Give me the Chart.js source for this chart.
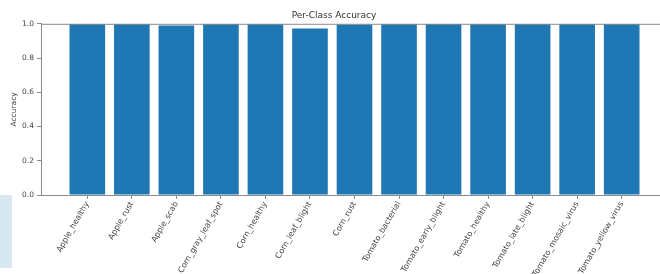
<!DOCTYPE html>
<html>
<head>
<meta charset="utf-8">
<script src="https://cdn.jsdelivr.net/npm/chart.js@4.4.1/dist/chart.umd.min.js"></script>
<style>
  html, body { margin: 0; padding: 0; background: #fff; overflow: hidden; }
  #wrap { position: relative; width: 668px; height: 274px; }
  #side { position: absolute; left: 0; top: 195px; width: 12px; height: 73px; background: #d7e8f1; }
</style>
</head>
<body>
<div id="wrap"><canvas id="accChart" width="668" height="274"></canvas></div>
<div id="side"></div>
<script>
let classes = [
  "Apple_healthy", "Apple_rust", "Apple_scab", "Corn_gray_leaf_spot", "Corn_healthy",
  "Corn_leaf_blight", "Corn_rust", "Tomato_bacterial", "Tomato_early_blight",
  "Tomato_healthy", "Tomato_late_blight", "Tomato_mosaic_virus", "Tomato_yellow_virus"
];
let accuracy = [1.0, 1.0, 0.99, 1.0, 1.0, 0.972, 0.996, 1.0, 1.0, 1.0, 1.0, 1.0, 1.0];
let yTickValues = [0.0, 0.2, 0.4, 0.6, 0.8, 1.0];

let axisColor = "#8a8a8a";
let textColor = "#444";
let font = { family: "DejaVu Sans", size: 7.5 };

// top and right spines like matplotlib
let spines = {
  id: "spines",
  afterDraw(chart) {
    let a = chart.chartArea;
    let c = chart.ctx;
    c.save();
    c.strokeStyle = axisColor;
    c.lineWidth = 1;
    c.beginPath();
    c.moveTo(a.left, a.top + 0.5);
    c.lineTo(a.right, a.top + 0.5);
    c.moveTo(a.right - 0.5, a.top);
    c.lineTo(a.right - 0.5, a.bottom);
    c.stroke();
    c.restore();
  },
};

let ctx = document.getElementById("accChart").getContext("2d");
let myChart = new Chart(ctx, {
  type: "bar",
  data: {
    datasets: [
      {
        data: accuracy.map((v, i) => ({ x: i, y: v })),
        backgroundColor: "#1f77b4",
        borderWidth: 0,
        barPercentage: 0.8,
        categoryPercentage: 1,
      },
    ],
  },
  plugins: [spines],
  options: {
    responsive: false,
    animation: false,
    layout: { padding: 0 },
    plugins: {
      legend: { display: false },
      tooltip: { enabled: false },
      title: {
        display: true,
        text: "Per-Class Accuracy",
        color: "#333",
        font: { family: "DejaVu Sans", size: 9, weight: "normal" },
        padding: { top: 10, bottom: 3 },
      },
    },
    scales: {
      x: {
        type: "linear",
        min: -1.04,
        max: 13.04,
        offset: false,
        afterBuildTicks: (axis) => {
          axis.ticks = classes.map((c, i) => ({ value: i }));
        },
        afterFit: (scale) => {
          scale.height = 79;
          scale.paddingLeft = 0;
          scale.paddingRight = 0;
        },
        ticks: {
          autoSkip: false,
          minRotation: 60,
          maxRotation: 60,
          padding: 1,
          color: textColor,
          font: { family: "DejaVu Sans", size: 8 },
          callback: (v) => classes[v],
        },
        grid: {
          display: true,
          offset: false,
          drawOnChartArea: false,
          drawTicks: true,
          tickLength: 4,
          color: axisColor,
        },
        border: { display: true, color: axisColor, width: 1 },
      },
      y: {
        min: 0,
        max: 1,
        afterBuildTicks: (axis) => {
          axis.ticks = yTickValues.map((v) => ({ value: v }));
        },
        afterFit: (scale) => {
          scale.width = 41;
        },
        ticks: {
          padding: 3,
          color: textColor,
          font: font,
          callback: (v) => v.toFixed(1),
        },
        grid: {
          display: true,
          drawOnChartArea: false,
          drawTicks: true,
          tickLength: 4,
          color: axisColor,
        },
        border: { display: true, color: axisColor, width: 1 },
        title: {
          display: true,
          text: "Accuracy",
          color: textColor,
          font: font,
          padding: { top: 10, bottom: 0 },
        },
      },
    },
  },
});
</script>
</body>
</html>
